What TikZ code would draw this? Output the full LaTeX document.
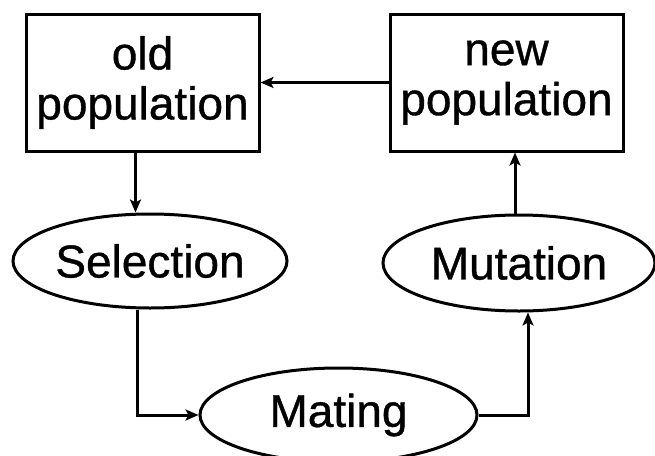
\documentclass[tikz,border=0pt]{standalone}
\usepackage{fontspec}
\setmainfont{Liberation Sans}[FakeBold=0.8]
\usetikzlibrary{shapes.geometric,arrows.meta}

\tikzset{
  labelfont/.style={font=\fontsize{46}{50}\selectfont},
  boxnode/.style={draw, line width=3pt, minimum width=233pt, minimum height=137pt,
    inner sep=0pt, align=center, labelfont},
  ovalnode/.style={draw, ellipse, line width=3pt, inner sep=0pt, labelfont},
  link/.style={line width=3pt, -{Stealth[length=13pt,width=11pt,inset=3pt]}},
}

\begin{document}
\begin{tikzpicture}[x=1pt,y=-1pt]
  \useasboundingbox (0,0) rectangle (655,455);
  \clip (0,0) rectangle (655,455);

  % population boxes
  \node[boxnode] (old) at (142.5,82.5) {old\\population};
  \node[boxnode] (new) at (506.5,82.5) {new\\population};

  % genetic operators
  \node[ovalnode, minimum width=274pt, minimum height=94pt] (sel) at (150,261) {Selection};
  \node[ovalnode, minimum width=272pt, minimum height=96pt] (mut) at (519,263) {Mutation};
  \node[ovalnode, minimum width=277pt, minimum height=94pt] (mat) at (338.5,415) {Mating};

  % cycle
  \draw[link] (new.west) -- (old.east);
  \draw[link] ([xshift=-7pt]old.south) -- ([xshift=-7pt]old.south |- sel.north);
  \draw[link] ([xshift=-13pt]sel.south) |- (mat.west);
  \draw[link] (mat.east) -| ([xshift=9pt]mut.south);
  \draw[link] ([xshift=-4pt]mut.north) -- ([xshift=-4pt]mut.north |- new.south);
\end{tikzpicture}
\end{document}
